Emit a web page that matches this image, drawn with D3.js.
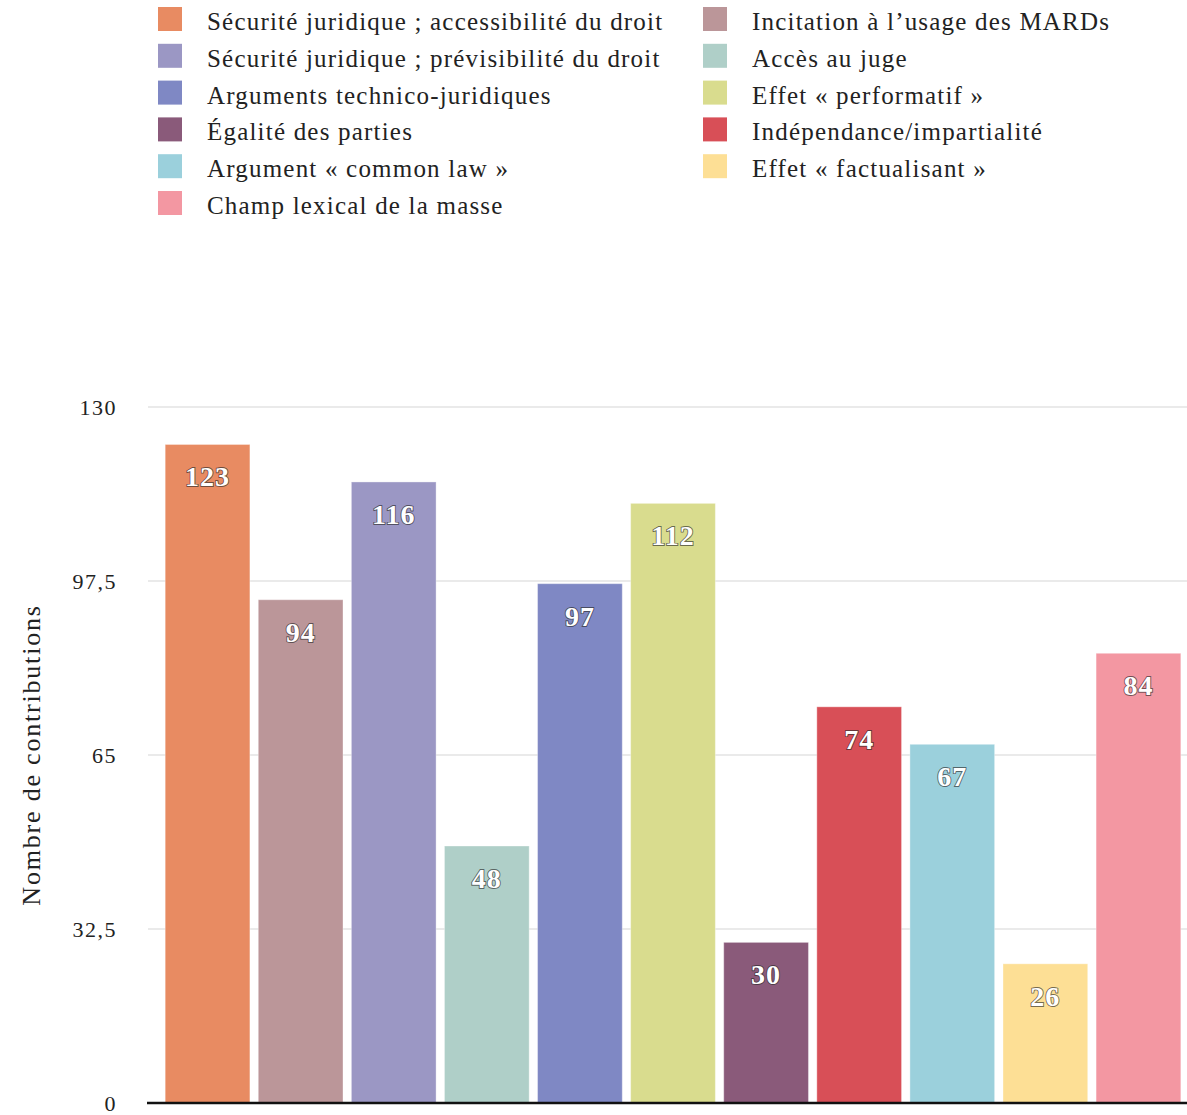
<!DOCTYPE html>
<html>
<head>
<meta charset="utf-8">
<script src="https://cdn.jsdelivr.net/npm/d3@7"></script>
<style>
  body { margin: 0; background: #fff; }
  svg text { font-family: "Liberation Serif", "DejaVu Serif", serif; }
</style>
</head>
<body>
<div id="chart"></div>
<script>
// categories in bar order
const categories = [
  "Sécurité juridique ; accessibilité du droit",
  "Incitation à l’usage des MARDs",
  "Sécurité juridique ; prévisibilité du droit",
  "Accès au juge",
  "Arguments technico-juridiques",
  "Effet « performatif »",
  "Égalité des parties",
  "Indépendance/impartialité",
  "Argument « common law »",
  "Effet « factualisant »",
  "Champ lexical de la masse"
];
const values = [123, 94, 116, 48, 97, 112, 30, 74, 67, 26, 84];
const colors = ["#e88b62", "#bb9699", "#9b97c4", "#afcfc8", "#7f88c4", "#d9dc8e",
                "#8a5a7a", "#d84f57", "#9bd0dc", "#fddf95", "#f397a2"];
const yTicks = [0, 32.5, 65, 97.5, 130];

const W = 1187, H = 1115;
const svg = d3.select("#chart").append("svg")
  .attr("width", W).attr("height", H);

// legend: two columns, items alternate between them
const legend = svg.append("g").attr("class", "legend");
categories.forEach((c, i) => {
  const col = i % 2, row = Math.floor(i / 2);
  const g = legend.append("g")
    .attr("transform", "translate(" + (col ? 703 : 158) + "," + (7 + row * 36.8) + ")");
  g.append("rect").attr("width", 24).attr("height", 24).attr("fill", colors[i]);
  g.append("text").attr("x", 49).attr("y", 23)
    .attr("font-size", 25).attr("letter-spacing", 1.2)
    .attr("fill", "#222").text(c);
});

// scales
const x = d3.scaleBand().domain(categories).range([161, 1185])
  .paddingInner(0.09).paddingOuter(0.045);
const y = d3.scaleLinear().domain([0, 130]).range([1103, 407]);

// grid lines
svg.append("g").selectAll("line").data(yTicks.slice(1)).join("line")
  .attr("x1", 148).attr("x2", W)
  .attr("y1", d => y(d)).attr("y2", d => y(d))
  .attr("stroke", "#e3e3e3").attr("stroke-width", 1.5);

// y axis labels
const fmt = d => String(d).replace(".", ",");
const yAxis = d3.axisLeft(y).tickValues(yTicks).tickFormat(fmt).tickSize(0).tickPadding(0);
const yg = svg.append("g").attr("transform", "translate(117,0)").call(yAxis);
yg.select(".domain").remove();
yg.selectAll("text").attr("font-size", 22).attr("fill", "#222")
  .attr("letter-spacing", 1.5)
  .attr("font-family", "Liberation Serif, serif").attr("dy", "0.33em");

svg.append("text")
  .attr("transform", "translate(40,755) rotate(-90)")
  .attr("text-anchor", "middle").attr("font-size", 26).attr("fill", "#222")
  .attr("letter-spacing", 1.8)
  .text("Nombre de contributions");

// bars
svg.append("g").selectAll("rect").data(values).join("rect")
  .attr("x", (d, i) => x(categories[i]))
  .attr("y", d => y(d))
  .attr("width", x.bandwidth())
  .attr("height", d => y(0) - y(d))
  .attr("fill", (d, i) => colors[i])
  .attr("stroke", "rgba(255,255,255,0.35)").attr("stroke-width", 1);

// value labels inside bars
svg.append("g").selectAll("text").data(values).join("text")
  .attr("x", (d, i) => x(categories[i]) + x.bandwidth() / 2)
  .attr("y", d => y(d) + 42)
  .attr("text-anchor", "middle")
  .attr("font-size", 28)
  .attr("font-weight", "bold")
  .attr("letter-spacing", 1)
  .attr("fill", "#fff")
  .attr("stroke", "rgba(40,40,40,0.65)").attr("stroke-width", 1.8)
  .attr("paint-order", "stroke")
  .text(d => d);

// baseline
svg.append("line")
  .attr("x1", 147).attr("x2", W)
  .attr("y1", y(0)).attr("y2", y(0))
  .attr("stroke", "#111").attr("stroke-width", 2.5);
</script>
</body>
</html>
